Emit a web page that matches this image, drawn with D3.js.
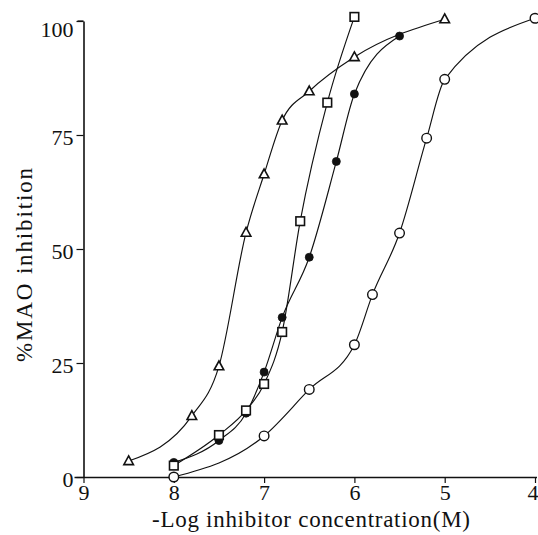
<!DOCTYPE html>
<html>
<head>
<meta charset="utf-8">
<script src="https://cdn.jsdelivr.net/npm/d3@7"></script>
<style>
html,body{margin:0;padding:0;background:#fff;}
svg{display:block;}
</style>
</head>
<body>
<svg id="chart" width="538" height="535"></svg>
<script>
// ---- data ----
const xTicks = [9, 8, 7, 6, 5, 4];
const yTicks = [0, 25, 50, 75, 100];
const xTitle = "-Log inhibitor concentration(M)";
const yTitle = "%MAO inhibition";

// open circles
const openCircleX = [8.0, 7.0, 6.5, 6.0, 5.8, 5.5, 5.2, 5.0, 4.0];
const openCircleY = [0, 9, 19.2, 29, 40, 53.5, 74.3, 87.2, 100.6];
// filled circles
const filledCircleX = [8.0, 7.5, 7.2, 7.0, 6.8, 6.5, 6.2, 6.0, 5.5];
const filledCircleY = [3.2, 8, 14, 23, 35, 48.2, 69.2, 84, 96.7];
// open squares
const squareX = [8.0, 7.5, 7.2, 7.0, 6.8, 6.6, 6.3, 6.0];
const squareY = [2.5, 9.2, 14.6, 20.4, 31.8, 56.1, 82.1, 100.9];
// open triangles
const triangleX = [8.5, 7.8, 7.5, 7.2, 7.0, 6.8, 6.5, 6.0, 5.0];
const triangleY = [3.5, 13.4, 24.3, 53.6, 66.4, 78.2, 84.6, 92.1, 100.4];

const series = [
  {name: "openCircle", xs: openCircleX, ys: openCircleY, marker: "circleOpen"},
  {name: "filledCircle", xs: filledCircleX, ys: filledCircleY, marker: "circleFilled"},
  {name: "square", xs: squareX, ys: squareY, marker: "square"},
  {name: "triangle", xs: triangleX, ys: triangleY, marker: "triangle"}
];

const FONT = "Liberation Serif";
const INK = "#111";

// ---- layout ----
const svg = d3.select("#chart");
const x = d3.scaleLinear().domain([9, 4]).range([83.5, 535]);
const y = d3.scaleLinear().domain([0, 100]).range([477, 21]);

// axes
const gx = svg.append("g").attr("transform", `translate(0,${y(0)})`)
  .call(d3.axisBottom(x).tickValues(xTicks).tickSize(6).tickSizeOuter(0).tickFormat(d3.format("d")));
gx.attr("font-family", FONT).attr("font-size", 22);
gx.select(".domain").attr("stroke", INK).attr("stroke-width", 1.6)
  .attr("d", `M${x(9) - 9},0.5H${x(4) + 2}`);
gx.selectAll(".tick line").attr("stroke", INK).attr("stroke-width", 1.2);
gx.selectAll(".tick text").attr("font-size", 22).attr("y", 23).attr("dy", 0)
  .attr("font-family", FONT).attr("fill", INK)
  .attr("text-anchor", d => d === 4 ? "end" : "middle")
  .attr("dx", d => d === 4 ? 3 : 0);

const gy = svg.append("g").attr("transform", `translate(${x(9)},0)`)
  .call(d3.axisLeft(y).tickValues(yTicks).tickSize(7).tickSizeOuter(0).tickFormat(d3.format("d")));
gy.attr("font-family", FONT).attr("font-size", 22);
gy.select(".domain").attr("stroke", INK).attr("stroke-width", 1.6);
gy.selectAll(".tick line").attr("stroke", INK).attr("stroke-width", 1.2);
gy.selectAll(".tick text").attr("font-size", 22).attr("x", -10)
  .attr("dy", d => d === 100 ? "0.72em" : "0.42em")
  .attr("font-family", FONT).attr("fill", INK);

// axis titles
svg.append("text")
  .attr("x", 152).attr("y", 527)
  .attr("font-family", FONT).attr("fill", INK)
  .attr("font-size", 23)
  .attr("textLength", 318).attr("lengthAdjust", "spacing")
  .text(xTitle);

svg.append("text")
  .attr("transform", "translate(32,265) rotate(-90)")
  .attr("text-anchor", "middle")
  .attr("font-family", FONT).attr("fill", INK)
  .attr("font-size", 23)
  .attr("textLength", 194).attr("lengthAdjust", "spacing")
  .text(yTitle);

// curves
const line = d3.line()
  .x(d => x(d[0])).y(d => y(d[1]))
  .curve(d3.curveMonotoneX);

const plot = svg.append("g");
series.forEach(s => {
  const pts = s.xs.map((v, i) => [v, s.ys[i]]);
  plot.append("path").datum(pts)
    .attr("d", line)
    .attr("fill", "none").attr("stroke", INK).attr("stroke-width", 1.15);
});

// markers
series.forEach(s => {
  const pts = s.xs.map((v, i) => [v, s.ys[i]]);
  const g = plot.append("g");
  pts.forEach(p => {
    const cx = x(p[0]), cy = y(p[1]);
    if (s.marker === "circleOpen") {
      g.append("circle").attr("cx", cx).attr("cy", cy).attr("r", 4.8)
        .attr("fill", "#fff").attr("stroke", INK).attr("stroke-width", 1.4);
    } else if (s.marker === "circleFilled") {
      g.append("circle").attr("cx", cx).attr("cy", cy).attr("r", 4)
        .attr("fill", INK).attr("stroke", INK).attr("stroke-width", 0.8);
    } else if (s.marker === "square") {
      g.append("rect").attr("x", cx - 4.3).attr("y", cy - 4.3)
        .attr("width", 8.6).attr("height", 8.6)
        .attr("fill", "#fff").attr("stroke", INK).attr("stroke-width", 1.6);
    } else if (s.marker === "triangle") {
      g.append("path")
        .attr("d", `M${cx},${cy - 5.2}L${cx + 4.8},${cy + 3.6}L${cx - 4.8},${cy + 3.6}Z`)
        .attr("fill", "#fff").attr("stroke", INK).attr("stroke-width", 1.6);
    }
  });
});

// small bracket tick at the top of the y axis
svg.append("line")
  .attr("x1", x(9) - 6).attr("x2", x(9))
  .attr("y1", y(100)).attr("y2", y(100))
  .attr("stroke", INK).attr("stroke-width", 1.2);
</script>
</body>
</html>
